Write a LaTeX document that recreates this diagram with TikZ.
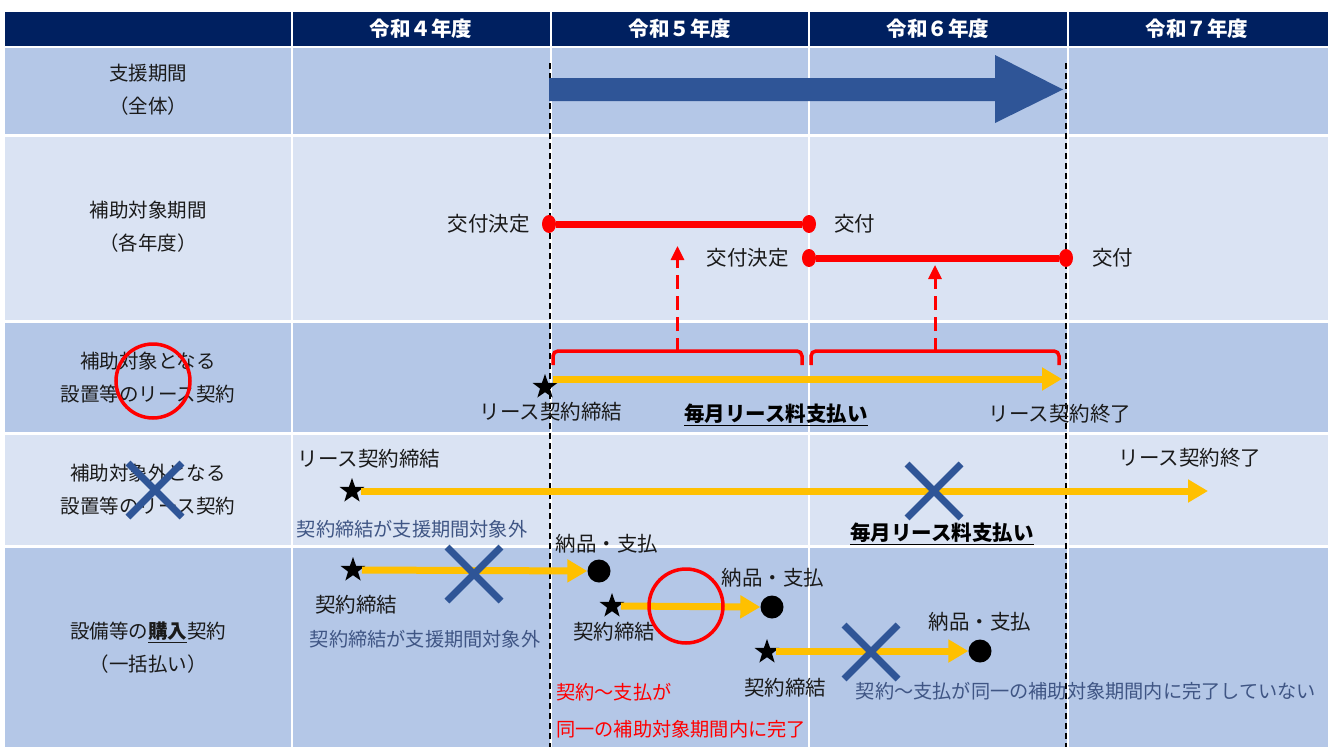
\documentclass[tikz,border=0pt]{standalone}
\usepackage{fontspec}
\setmainfont{Noto Sans CJK JP}
\usetikzlibrary{arrows.meta,shapes.geometric}
\definecolor{navy}{HTML}{002060}
\definecolor{cellA}{HTML}{B4C7E7}
\definecolor{cellB}{HTML}{DAE3F3}
\definecolor{xblue}{HTML}{2F5597}
\definecolor{ylw}{HTML}{FFC000}
\definecolor{notetext}{HTML}{3F5584}
\definecolor{txtblack}{HTML}{1A1A1A}
\tikzset{
  lbl/.style={inner sep=0pt, align=center, text=txtblack, font=\fontsize{19.5}{33}\selectfont},
  hdr/.style={inner sep=0pt, text=white, font=\fontsize{20.5}{24}\selectfont\bfseries},
  txt/.style={inner sep=0pt, text=txtblack, font=\fontsize{20.5}{24}\selectfont},
  btxt/.style={inner sep=0pt, text=black, font=\fontsize{20.5}{24}\selectfont\bfseries},
  note/.style={inner sep=0pt, text=notetext, font=\fontsize{19.2}{23}\selectfont},
  rnote/.style={inner sep=0pt, text=red, font=\fontsize{19.2}{23}\selectfont},
  vdash/.style={draw=black, line width=1.6pt, dash pattern=on 6pt off 4pt},
  starmark/.style={star, star points=5, star point ratio=2.5, minimum size=26pt, inner sep=0pt, fill=black, draw=none},
  dotmark/.style={circle, fill=black, minimum size=23pt, inner sep=0pt},
  reddot/.style={ellipse, fill=red, minimum width=14pt, minimum height=18pt, inner sep=0pt},
  redbar/.style={draw=red, line width=7pt},
  yarrow/.style={draw=ylw, line width=7pt, -{Triangle[length=20pt,width=22pt]}},
  brace/.style={draw=red, line width=3.5pt, rounded corners=5pt},
  reddash/.style={draw=red, line width=3pt, dash pattern=on 14pt off 7pt, -{Triangle[length=14pt,width=13pt]}},
  xmark/.style={draw=xblue, line width=7pt},
  okcircle/.style={draw=red, line width=3.5pt},
}
\begin{document}
\begin{tikzpicture}[x=1pt,y=-1pt]
\useasboundingbox (0,0) rectangle (1333,747);
\fill[white] (0,0) rectangle (1333,747);
% header row
\foreach \xa/\xb in {5/291, 293/550, 552/808, 810/1067, 1069/1328}{
  \fill[navy] (\xa,12) rectangle (\xb,46);
}
% body rows
\foreach \ya/\yb/\c in {48/134/cellA, 137/320/cellB, 323/432/cellA, 435/545/cellB, 548/747/cellA}{
  \foreach \xa/\xb in {5/291, 293/550, 552/808, 810/1067, 1069/1328}{
    \fill[\c] (\xa,\ya) rectangle (\xb,\yb);
  }
}
% header texts
\node[hdr] (h4) at (421,29) {令和４年度};
\node[hdr] (h5) at (680,29) {令和５年度};
\node[hdr] (h6) at (938,29) {令和６年度};
\node[hdr] (h7) at (1197,29) {令和７年度};
% row labels
\node[lbl] (l1) at (148,90) {支援期間\\（全体）};
\node[lbl] (l2) at (148,227) {補助対象期間\\（各年度）};
\node[lbl] (l3) at (148,378) {補助対象となる\\設置等のリース契約};
\node[lbl] (l4) at (148,490) {補助対象外となる\\設置等のリース契約};
\node[lbl] (l5) at (148,648) {設備等の\textbf{\underline{購入}}契約\\（一括払い）};
% dashed year boundaries
\coordinate (dla) at (550,63); \coordinate (dlb) at (550,747);
\coordinate (dra) at (1066,63); \coordinate (drb) at (1066,747);
\draw[vdash] (dla) -- (dlb);
\draw[vdash] (dra) -- (drb);
% row 1: support period arrow
\fill[xblue] (549,78) -- (995,78) -- (995,55) -- (1063,89.5) -- (995,123) -- (995,101) -- (549,101) -- cycle;
% row 2: subsidy periods
\node[reddot] (p1a) at (549,224) {};
\node[reddot] (p1b) at (809,224) {};
\node[reddot] (p2a) at (809,258) {};
\node[reddot] (p2b) at (1066,258) {};
\draw[redbar] (p1a) -- (p1b);
\draw[redbar] (p2a) -- (p2b);
\node[txt, anchor=east] (k1) at (530,224) {交付決定};
\node[txt, anchor=west] (f1) at (834,224) {交付};
\node[txt, anchor=east] (k2) at (789,258) {交付決定};
\node[txt, anchor=west] (f2) at (1092,258) {交付};
% row 3: braces and dashed arrows
\draw[brace] (553,365) -- (553,351) -- (802,351) -- (802,365);
\draw[brace] (811,365) -- (811,351) -- (1059,351) -- (1059,365);
\coordinate (b1tip) at (677.5,352); \coordinate (b1top) at (677.5,246);
\coordinate (b2tip) at (935,352); \coordinate (b2top) at (935,265);
\draw[draw=red, line width=3pt] (677.5,352) -- (677.5,342);
\draw[draw=red, line width=3pt] (935,352) -- (935,342);
\draw[reddash] (b1tip) -- (b1top);
\draw[reddash] (b2tip) -- (b2top);
% row 3: lease arrow
\node[starmark] (s3) at (545,387) {};
\coordinate (e3) at (1062,379);
\draw[yarrow] (553,379) -- (e3);
\node[txt] (t3a) at (551,412) {リース契約締結};
\node[btxt] (t3b) at (776,415) {\underline{毎月リース料支払い}};
\node[txt] (t3c) at (1060,414) {リース契約終了};
% row 4: out-of-scope lease
\node[starmark] (s4) at (352,491) {};
\coordinate (e4) at (1208,491);
\draw[yarrow] (s4.center) ++(9,0) -- (e4);
\node[txt] (t4a) at (369,459) {リース契約締結};
\node[txt] (t4c) at (1190,458) {リース契約終了};
\node[note] (t4n) at (412,529) {契約締結が支援期間対象外};
\node[btxt] (t4b) at (942,534) {\underline{毎月リース料支払い}};
% row 5: purchase contracts
\node[starmark] (s5a) at (353,570) {};
\node[dotmark] (d5a) at (599,571) {};
\draw[yarrow] (362,570) -- (d5a.west);
\node[txt] (c5a) at (356,605) {契約締結};
\node[note] (n5a) at (425,639) {契約締結が支援期間対象外};
\node[txt] (p5a) at (607,544) {納品・支払};

\node[starmark] (s5b) at (612,606) {};
\node[dotmark] (d5b) at (772,607) {};
\draw[yarrow] (621,606) -- (d5b.west);
\node[txt] (c5b) at (614,632) {契約締結};
\node[txt] (p5b) at (773,578) {納品・支払};

\node[starmark] (s5c) at (767,652) {};
\node[dotmark] (d5c) at (980,651) {};
\draw[yarrow] (776,651) -- (d5c.west);
\node[txt] (c5c) at (785,688) {契約締結};
\node[txt] (p5c) at (980,622) {納品・支払};
\node[note] (n5c) at (1086,691) {契約～支払が同一の補助対象期間内に完了していない};

\node[rnote, anchor=west] (r5a) at (556,692) {契約～支払が};
\node[rnote, anchor=west] (r5b) at (556,729) {同一の補助対象期間内に完了};
% marks: circles and crosses
\node[okcircle, circle, minimum size=74pt, inner sep=0pt] (ok1) at (153,381) {};
\node[okcircle, circle, minimum size=74pt, inner sep=0pt] (ok2) at (686,606) {};
\foreach \cx/\cy in {155/490, 934/491, 474/574, 871/652}{
  \draw[xmark] (\cx-27,\cy-27) -- (\cx+27,\cy+27);
  \draw[xmark] (\cx-27,\cy+27) -- (\cx+27,\cy-27);
}
\end{tikzpicture}
\end{document}
